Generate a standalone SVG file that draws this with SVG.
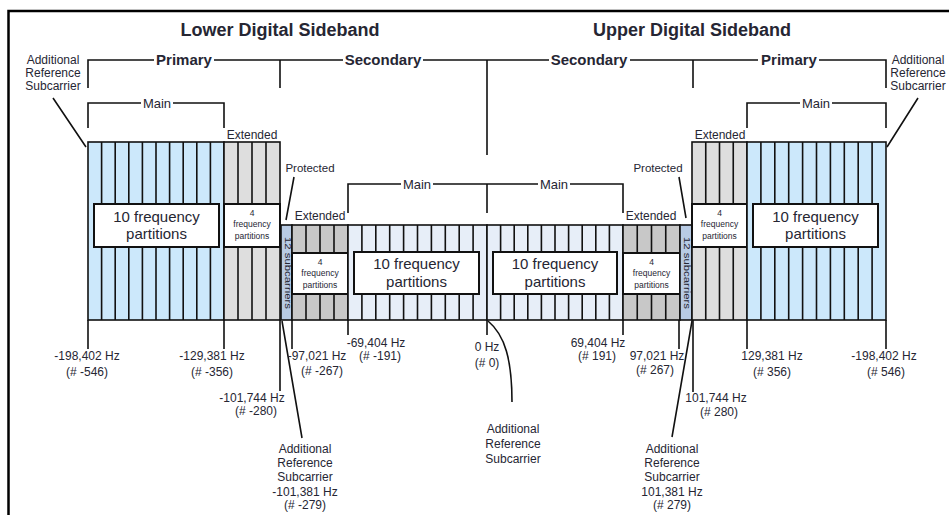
<svg xmlns="http://www.w3.org/2000/svg" width="949" height="515" viewBox="0 0 949 515">
<style>
text{font-family:"Liberation Sans",Arial,sans-serif;fill:#262633}
.title{font-size:18px;font-weight:bold;text-anchor:middle}
.brk{font-size:15px;font-weight:bold;text-anchor:middle}
.main{font-size:13px;text-anchor:middle}
.sm{font-size:12px;text-anchor:middle}
.lbl{font-size:11.5px;text-anchor:middle}
.big{font-size:15px;text-anchor:middle}
.tiny{font-size:8.5px;text-anchor:middle}
.ln{stroke:#111;stroke-width:1.6;fill:none}
.cell{stroke:#111;stroke-width:1.6}
.box{fill:#fff;stroke:#111;stroke-width:2}
.pm{fill:#cce8fb}
.pe{fill:#dedede}
.se{fill:#c8c8c8}
.smn{fill:#e7eef8}
.pr{fill:#b8cbe4}
</style>
<rect x="0" y="0" width="949" height="515" fill="#fff"/>
<path d="M8.5,515 V11 H949" fill="none" stroke="#000" stroke-width="2.5"/>

<text class="title" x="280" y="36">Lower Digital Sideband</text>
<text class="title" x="692" y="36">Upper Digital Sideband</text>

<g id="left-primary-main">
<rect class="pm cell" x="88" y="142" width="136" height="178"/>
<path class="ln" d="M101.6,142V320M115.2,142V320M128.8,142V320M142.4,142V320M156,142V320M169.6,142V320M183.2,142V320M196.8,142V320M210.4,142V320"/>
<rect class="box" x="94" y="204" width="125" height="43"/>
<text class="big" x="156.5" y="222">10 frequency</text>
<text class="big" x="156.5" y="239">partitions</text>
</g>
<g id="left-primary-extended">
<rect class="pe cell" x="224" y="142" width="56" height="178"/>
<path class="ln" d="M238,142V320M252,142V320M266,142V320"/>
<rect class="box" x="224" y="204" width="56" height="43"/>
<text class="tiny" x="252" y="216">4</text>
<text class="tiny" x="252" y="227">frequency</text>
<text class="tiny" x="252" y="239">partitions</text>
</g>
<g id="left-protected">
<rect class="pr cell" x="281" y="225" width="11" height="95"/>
<text font-size="9.5" transform="translate(284.5,237) rotate(90)" textLength="72" lengthAdjust="spacingAndGlyphs">12 subcarriers</text>
</g>
<g id="left-secondary-extended">
<rect class="se cell" x="292" y="225" width="56" height="95"/>
<path class="ln" d="M306,225V320M320,225V320M334,225V320"/>
<rect class="box" x="292" y="253" width="56" height="41"/>
<text class="tiny" x="320" y="265">4</text>
<text class="tiny" x="320" y="276">frequency</text>
<text class="tiny" x="320" y="288">partitions</text>
</g>
<g id="left-secondary-main">
<rect class="smn cell" x="348" y="225" width="139" height="95"/>
<path class="ln" d="M361.9,225V320M375.8,225V320M389.7,225V320M403.6,225V320M417.5,225V320M431.4,225V320M445.3,225V320M459.2,225V320M473.1,225V320"/>
<rect class="box" x="354" y="252" width="125" height="42"/>
<text class="big" x="416.5" y="269">10 frequency</text>
<text class="big" x="416.5" y="287">partitions</text>
</g>
<g id="right-secondary-main">
<rect class="smn cell" x="487" y="225" width="136" height="95"/>
<path class="ln" d="M500.6,225V320M514.2,225V320M527.8,225V320M541.4,225V320M555,225V320M568.6,225V320M582.2,225V320M595.8,225V320M609.4,225V320"/>
<rect class="box" x="493" y="252" width="124" height="42"/>
<text class="big" x="555" y="269">10 frequency</text>
<text class="big" x="555" y="287">partitions</text>
</g>
<g id="right-secondary-extended">
<rect class="se cell" x="623" y="225" width="57" height="95"/>
<path class="ln" d="M637.25,225V320M651.5,225V320M665.75,225V320"/>
<rect class="box" x="623" y="253" width="57" height="41"/>
<text class="tiny" x="651.5" y="265">4</text>
<text class="tiny" x="651.5" y="276">frequency</text>
<text class="tiny" x="651.5" y="288">partitions</text>
</g>
<g id="right-protected">
<rect class="pr cell" x="680" y="225" width="12" height="95"/>
<text font-size="9.5" transform="translate(683.5,237) rotate(90)" textLength="72" lengthAdjust="spacingAndGlyphs">12 subcarriers</text>
</g>
<g id="right-primary-extended">
<rect class="pe cell" x="692" y="142" width="55" height="178"/>
<path class="ln" d="M705.75,142V320M719.5,142V320M733.25,142V320"/>
<rect class="box" x="692" y="204" width="55" height="43"/>
<text class="tiny" x="719.5" y="216">4</text>
<text class="tiny" x="719.5" y="227">frequency</text>
<text class="tiny" x="719.5" y="239">partitions</text>
</g>
<g id="right-primary-main">
<rect class="pm cell" x="747" y="142" width="139" height="178"/>
<path class="ln" d="M760.9,142V320M774.8,142V320M788.7,142V320M802.6,142V320M816.5,142V320M830.4,142V320M844.3,142V320M858.2,142V320M872.1,142V320"/>
<rect class="box" x="753" y="204" width="125" height="43"/>
<text class="big" x="815.5" y="222">10 frequency</text>
<text class="big" x="815.5" y="239">partitions</text>
</g>

<g id="connectors">
<path class="ln" d="M88,88V60H154M214,60H280V88M280,60H343M423,60H487V155M487,60H549M630,60H693V88M693,60H758M819,60H886V88"/>
<path class="ln" d="M88,128V103H141M173,103H224V128"/>
<path class="ln" d="M747,128V103H800M832,103H886V128"/>
<path class="ln" d="M348,213V184H401M433,184H538M570,184H623V213M487,184V213"/>
<path class="ln" d="M53,98L86,147M918,98L887,147"/>
<path class="ln" d="M294,177L286,220M679,177L686,218"/>
<path class="ln" d="M88,320V349M224,320V349M280,320V391M292,320V349M348,320V335M487,320V335M623,320V335M679,320V349M693,320V392M747,320V349M886,320V349"/>
<path class="ln" d="M282,321L302,438M692,321L672,437"/>
<path class="ln" d="M488,321C505,335 512,360 512,402"/>
</g>

<g id="labels">
<text class="brk" x="184" y="65">Primary</text>
<text class="brk" x="383" y="65">Secondary</text>
<text class="brk" x="589" y="65">Secondary</text>
<text class="brk" x="789" y="65">Primary</text>
<text class="main" x="157" y="108">Main</text>
<text class="main" x="816" y="108">Main</text>
<text class="main" x="417" y="189">Main</text>
<text class="main" x="554" y="189">Main</text>
<text class="sm" x="53" y="64">Additional</text>
<text class="sm" x="53" y="77">Reference</text>
<text class="sm" x="53" y="90">Subcarrier</text>
<text class="sm" x="918" y="64">Additional</text>
<text class="sm" x="918" y="77">Reference</text>
<text class="sm" x="918" y="90">Subcarrier</text>
<text class="sm" x="252" y="139">Extended</text>
<text class="sm" x="720" y="139">Extended</text>
<text class="sm" x="320" y="220">Extended</text>
<text class="sm" x="651" y="220">Extended</text>
<text class="lbl" x="310" y="172">Protected</text>
<text class="lbl" x="658" y="172">Protected</text>

<text class="sm" x="87" y="360">-198,402 Hz</text>
<text class="sm" x="87" y="376">(# -546)</text>
<text class="sm" x="212" y="360">-129,381 Hz</text>
<text class="sm" x="212" y="376">(# -356)</text>
<text class="sm" x="252" y="402">-101,744 Hz</text>
<text class="sm" x="256" y="415">(# -280)</text>
<text class="sm" x="317" y="360">-97,021 Hz</text>
<text class="sm" x="322" y="375">(# -267)</text>
<text class="sm" x="376" y="347">-69,404 Hz</text>
<text class="sm" x="380" y="360">(# -191)</text>
<text class="sm" x="487" y="351">0 Hz</text>
<text class="sm" x="487" y="367">(# 0)</text>
<text class="sm" x="598" y="347">69,404 Hz</text>
<text class="sm" x="597" y="360">(# 191)</text>
<text class="sm" x="657" y="360">97,021 Hz</text>
<text class="sm" x="655" y="374">(# 267)</text>
<text class="sm" x="716" y="402">101,744 Hz</text>
<text class="sm" x="719" y="416">(# 280)</text>
<text class="sm" x="772" y="360">129,381 Hz</text>
<text class="sm" x="772" y="376">(# 356)</text>
<text class="sm" x="884" y="360">-198,402 Hz</text>
<text class="sm" x="886" y="376">(# 546)</text>

<text class="sm" x="305" y="453">Additional</text>
<text class="sm" x="305" y="467">Reference</text>
<text class="sm" x="305" y="481">Subcarrier</text>
<text class="sm" x="305" y="496">-101,381 Hz</text>
<text class="sm" x="305" y="509">(# -279)</text>
<text class="sm" x="513" y="433">Additional</text>
<text class="sm" x="513" y="448">Reference</text>
<text class="sm" x="513" y="463">Subcarrier</text>
<text class="sm" x="672" y="453">Additional</text>
<text class="sm" x="672" y="467">Reference</text>
<text class="sm" x="672" y="481">Subcarrier</text>
<text class="sm" x="672" y="496">101,381 Hz</text>
<text class="sm" x="672" y="509">(# 279)</text>
</g>
</svg>
